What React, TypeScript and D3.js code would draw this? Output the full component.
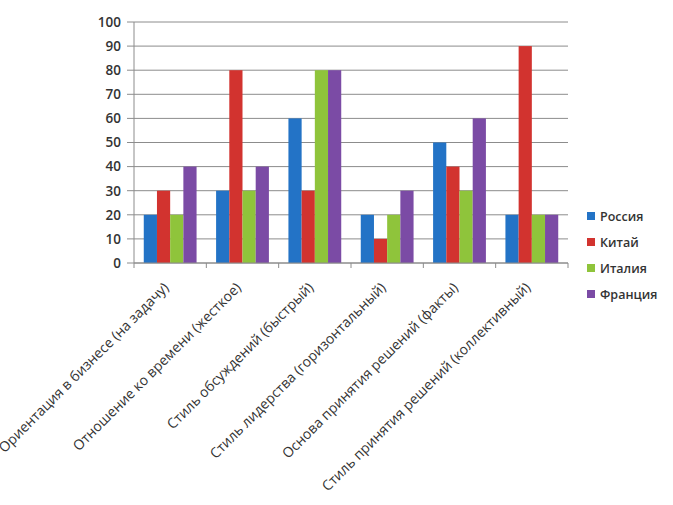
import React, { useEffect, useRef } from 'react';
import * as d3 from 'd3';

const categories = [
  'Ориентация в бизнесе (на задачу)',
  'Отношение ко времени (жесткое)',
  'Стиль обсуждений (быстрый)',
  'Стиль лидерства (горизонтальный)',
  'Основа принятия решений (факты)',
  'Стиль принятия решений (коллективный)',
];
const seriesNames = ['Россия', 'Китай', 'Италия', 'Франция'];
const russia = [20, 30, 60, 20, 50, 20];
const china = [30, 80, 30, 10, 40, 90];
const italy = [20, 30, 80, 20, 30, 20];
const france = [40, 40, 80, 30, 60, 20];
const yTicks = [0, 10, 20, 30, 40, 50, 60, 70, 80, 90, 100];
const colors = ['#2373c6', '#d2332f', '#8fc43b', '#7b4ba5'];

const App = () => {
  const ref = useRef<SVGSVGElement>(null);

  useEffect(() => {
    const svg = d3.select(ref.current);
    svg.selectAll('*').remove();

    const left = 134, right = 568, top = 22, bottom = 263;
    const values = [russia, china, italy, france];

    const x0 = d3.scaleBand().domain(categories).range([left, right]).paddingInner(0.27).paddingOuter(0.135);
    const step = x0.step();
    const x1 = d3.scaleBand().domain(seriesNames).range([0, x0.bandwidth()]);
    const y = d3.scaleLinear().domain([0, 100]).range([bottom, top]);

    const font = '"Open Sans", "DejaVu Sans", sans-serif';

    // gridlines + y ticks
    svg.append('g').selectAll('line').data(yTicks).enter().append('line')
      .attr('x1', left - 7).attr('x2', right)
      .attr('y1', (d) => y(d)).attr('y2', (d) => y(d))
      .attr('stroke', '#8c8c8c').attr('stroke-width', 1);

    svg.append('g').selectAll('text').data(yTicks).enter().append('text')
      .attr('x', 121).attr('y', (d) => y(d))
      .attr('dy', '0.36em')
      .attr('text-anchor', 'end')
      .attr('font-family', font).attr('font-size', 13.5).attr('font-weight', 600)
      .attr('fill', '#333')
      .text((d) => d);

    // bars
    const group = svg.append('g').selectAll('g').data(categories).enter().append('g')
      .attr('transform', (d) => `translate(${x0(d)},0)`);
    group.selectAll('rect')
      .data((_, i) => seriesNames.map((s, k) => ({ s, v: values[k][i], k })))
      .enter().append('rect')
      .attr('x', (d) => x1(d.s) as number)
      .attr('width', x1.bandwidth())
      .attr('y', (d) => y(d.v))
      .attr('height', (d) => bottom - y(d.v))
      .attr('fill', (d) => colors[d.k]);

    // axes lines
    svg.append('line').attr('x1', left).attr('x2', left).attr('y1', top).attr('y2', bottom)
      .attr('stroke', '#8c8c8c');
    svg.append('line').attr('x1', left).attr('x2', right).attr('y1', bottom).attr('y2', bottom)
      .attr('stroke', '#8c8c8c');
    svg.append('g').selectAll('line').data(d3.range(categories.length + 1)).enter().append('line')
      .attr('x1', (i) => left + i * step).attr('x2', (i) => left + i * step)
      .attr('y1', bottom).attr('y2', bottom + 5)
      .attr('stroke', '#8c8c8c');

    // category labels
    svg.append('g').selectAll('text').data(categories).enter().append('text')
      .attr('transform', (d) => `translate(${(x0(d) as number) + x0.bandwidth() / 2 - 4},${bottom + 22}) rotate(-45)`)
      .attr('text-anchor', 'end')
      .attr('dy', '0.35em')
      .attr('font-family', font).attr('font-size', 14)
      .attr('fill', '#333')
      .text((d) => d);

    // legend
    const legend = svg.append('g').selectAll('g').data(seriesNames).enter().append('g')
      .attr('transform', (_, i) => `translate(587,${216 + i * 26})`);
    legend.append('rect').attr('x', 0).attr('y', -4).attr('width', 8).attr('height', 8)
      .attr('fill', (_, i) => colors[i]);
    legend.append('text').attr('x', 13).attr('y', 0).attr('dy', '0.36em')
      .attr('font-family', font).attr('font-size', 12.5).attr('font-weight', 600)
      .attr('fill', '#333')
      .text((d) => d);
  }, []);

  return (
    <svg ref={ref} width={673} height={505}
      style={{ position: 'absolute', left: 0, top: 0, background: '#fff' }} />
  );
};

export default App;
